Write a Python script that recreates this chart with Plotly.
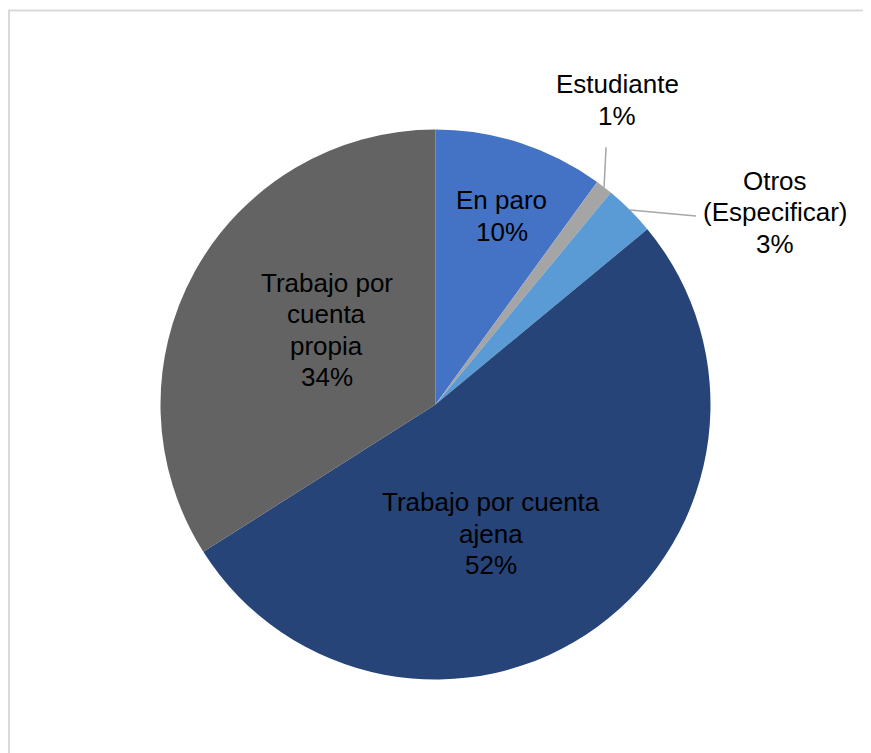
import math
import plotly.graph_objects as go

# ---- data ----
labels = ["En paro", "Estudiante", "Otros (Especificar)",
          "Trabajo por cuenta ajena", "Trabajo por cuenta propia"]
values = [10, 1, 3, 52, 34]
label_lines = [["En paro", "10%"],
               ["Estudiante", "1%"],
               ["Otros", "(Especificar)", "3%"],
               ["Trabajo por cuenta", "ajena", "52%"],
               ["Trabajo por", "cuenta", "propia", "34%"]]

# ---- style ----
OFF = 8  # page body margin in the browser
W, H = 871 - 2 * OFF, 753 - OFF
CX, CY, R = 435.5 - OFF, 404.5 - OFF, 275.0
colors = ["#4472C4", "#A5A5A5", "#5B9BD5", "#264478", "#636363"]
FONT = dict(family="Liberation Sans, Arial, sans-serif", size=26, color="#000000")
LINE_H = 31.5
# label placement: (radius fraction, angle shift in degrees) relative to slice mid-angle
label_place = [(0.727, 1.4), (1.289, -7.0), (1.42, 15.5), (0.512, 12.8), (0.479, 5.7)]
outside = [False, True, True, False, False]

fig = go.Figure(go.Pie(
    labels=labels, values=values, sort=False, direction="clockwise", rotation=0,
    marker=dict(colors=colors, line=dict(width=0)),
    textinfo="none", hoverinfo="label+percent", showlegend=False,
    domain=dict(x=[(CX - R) / W, (CX + R) / W], y=[1 - (CY + R) / H, 1 - (CY - R) / H]),
))

total = float(sum(values))
cum = 0.0
annotations = []
shapes = []
for i, v in enumerate(values):
    start = cum / total * 360.0
    cum += v
    end = cum / total * 360.0
    mid = (start + end) / 2.0
    rf, shift = label_place[i]
    a = math.radians(mid + shift)
    px = CX + rf * R * math.sin(a)
    py = CY - rf * R * math.cos(a)
    n = len(label_lines[i])
    for k, line in enumerate(label_lines[i]):
        ly = py + (k - (n - 1) / 2.0) * LINE_H
        annotations.append(dict(x=px / W, y=1 - ly / H, xref="paper", yref="paper",
                                text=line, showarrow=False, font=FONT,
                                xanchor="center", yanchor="middle"))
    if outside[i]:
        am = math.radians(mid)
        ex = CX + R * math.sin(am)
        ey = CY - R * math.cos(am)
        if i == 1:
            x1, y1 = ex + 2, ey - 40
        else:
            x1, y1 = ex + 66, ey + 6
        shapes.append(dict(type="line", xref="paper", yref="paper",
                           x0=ex / W, y0=1 - ey / H, x1=x1 / W, y1=1 - y1 / H,
                           line=dict(color="#A6A6A6", width=1.5)))

# chart frame (top and left edges visible)
shapes.append(dict(type="line", xref="paper", yref="paper",
                   x0=0, y0=1 - 2.5 / H, x1=1, y1=1 - 2.5 / H,
                   line=dict(color="#D9D9D9", width=2)))
shapes.append(dict(type="line", xref="paper", yref="paper",
                   x0=1 / W, y0=1 - 2 / H, x1=1 / W, y1=0,
                   line=dict(color="#D9D9D9", width=2)))

fig.update_layout(width=W, height=H, margin=dict(l=0, r=0, t=0, b=0),
                  paper_bgcolor="white", plot_bgcolor="white",
                  annotations=annotations, shapes=shapes)
fig.write_html("out.html")
